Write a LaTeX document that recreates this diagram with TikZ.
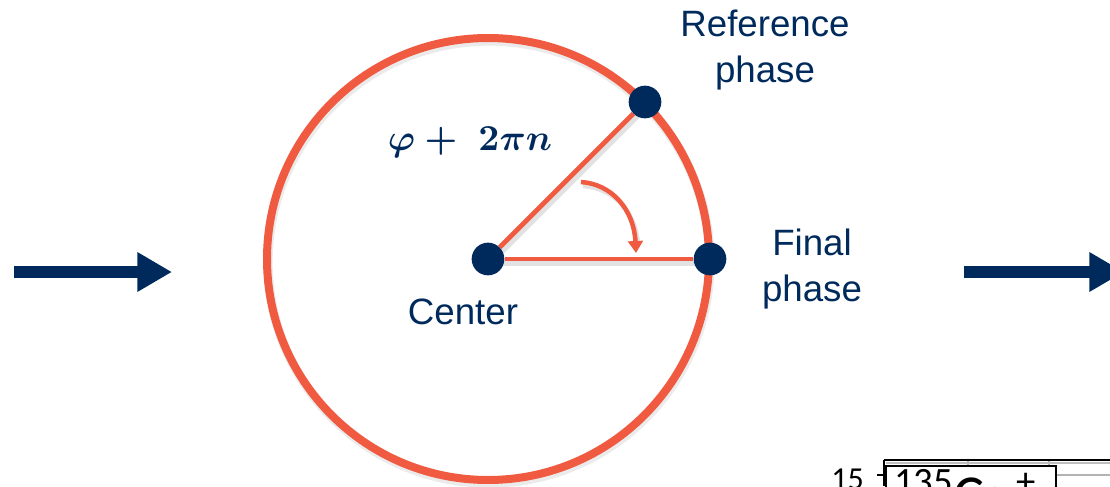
\documentclass[tikz,border=0pt]{standalone}
\usepackage{graphicx}
\usepackage{fontspec}
\setmainfont{Liberation Sans}
\newfontfamily\calib{Carlito}
\usetikzlibrary{arrows.meta}
\definecolor{navy}{HTML}{002A5C}
\definecolor{ored}{HTML}{F05A40}
\newcommand{\phaseformula}{\resizebox{123pt}{!}{\boldmath$\varphi+\mkern5mu 2\pi n$}}
\tikzset{
  dot/.style={circle, fill=navy, minimum size=24.5pt, inner sep=0pt},
  radius line/.style={ored, line width=3.6pt},
  shadowline/.style={gray!45, opacity=0.5, line width=4.5pt},
  lbl/.style={navy, align=center, font=\fontsize{27.5}{34.5}\selectfont, inner sep=0pt},
  formula/.style={text=navy, inner sep=0pt},
  bigarrow/.style={navy, line width=9pt, -{Triangle[length=26pt,width=28pt]}},
  chartline/.style={black, line width=1.8pt},
  gridline/.style={gray!60, line width=1.2pt}
}
\begin{document}
\begin{tikzpicture}[x=0.75pt,y=-0.75pt]
\useasboundingbox (0,0) rectangle (1110,486);
\clip (0,0) rectangle (1110,486);

% centres
\coordinate (cc) at (488,259);
\coordinate (fc) at (710,259);
\coordinate (rc) at (645,102);

% shadows
\draw[shadowline] ([shift={(2,4)}]cc) -- ([shift={(2,4)}]fc);
\draw[shadowline] ([shift={(2,4)}]cc) -- ([shift={(2,4)}]rc);
\draw[gray!40, opacity=0.4, line width=7pt] ([shift={(1,3)}]cc) circle[radius=221];

% circle
\draw[ored, line width=6pt] (cc) circle[radius=221];

% dots
\node[dot] (c) at (cc) {};
\node[dot] (f) at (fc) {};
\node[dot] (r) at (rc) {};

% radii
\draw[radius line] (c) -- (f);
\draw[radius line] (c) -- (r);

% angle arrow
\coordinate (a1) at (581,182);
\coordinate (a2) at (636,253);
\draw[shadowline, line width=3.4pt] ([shift={(2,4)}]a1) .. controls (614,188) and (636,212) .. ([shift={(2,-8)}]a2);
\draw[ored, line width=3.4pt, -{Triangle[length=9pt,width=11pt]}] (a1) .. controls (612,184) and (634,210) .. (a2);

% labels
\node[lbl] (rt) at (765,50) {Reference\\phase};
\node[lbl] (ft) at (812,269) {Final\\phase};
\node[lbl] (ct) at (463,312) {Center};
\node[formula] (phi) at (470,142) {\phaseformula};

% big arrows
\coordinate (l1) at (14,272);
\coordinate (l2) at (172,272);
\coordinate (q1) at (964,272);
\coordinate (q2) at (1124,272);
\draw[bigarrow] (l1) -- (l2);
\draw[bigarrow] (q1) -- (q2);

% chart fragment
\coordinate (ax) at (884,460);
\coordinate (axr) at (1110,460);
\coordinate (axb) at (884,486);
\draw[gridline] (968,460) -- (968,466);
\draw[gridline] (1049,460) -- (1049,466);
\draw[gridline] (1056,475) -- (1110,475);
\draw[gray!50, line width=0.8pt] (886,463) -- (1110,463);
\draw[chartline] (ax) -- (axr);
\draw[chartline] (ax) -- (axb);
\draw[chartline] (877,475) -- (884,475);
\node[anchor=base east, inner sep=0pt, font=\calib\fontsize{24}{24}\selectfont] (tick) at (864,489) {15};
\draw[black, line width=1.6pt, fill=white] (886,466) rectangle (1056,520);
\node[anchor=base west, inner sep=0pt, font=\calib] (leg) at (894,515) {\raisebox{15.5pt}{\fontsize{29}{29}\selectfont 135}\fontsize{43.5}{43.5}\selectfont Cs\,\raisebox{15.5pt}{\fontsize{29}{29}\selectfont +}};
\end{tikzpicture}
\end{document}
